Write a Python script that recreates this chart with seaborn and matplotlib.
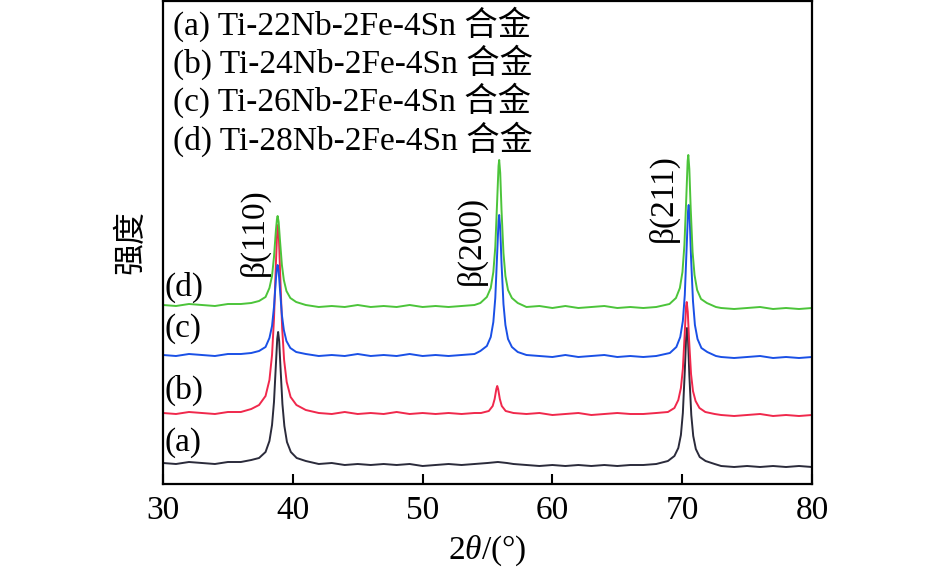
import matplotlib
matplotlib.use("Agg")
import matplotlib.pyplot as plt
import seaborn as sns
import pandas as pd

# ---------------- data ----------------
x_a = [30, 31, 32, 33, 34, 35, 36, 36.8, 37.4, 37.9, 38.2, 38.4, 38.55, 38.7, 38.8, 38.87, 38.95, 39.05, 39.2,
       39.35, 39.55, 39.85, 40.3, 41, 42, 43, 44, 45, 46, 47, 48, 49, 50, 51, 52, 53, 54, 55, 55.8, 56.5, 57, 58,
       59, 60, 61, 62, 63, 64, 65, 66, 67, 68, 68.9, 69.4, 69.7, 69.9, 70.05, 70.2, 70.3, 70.37, 70.45, 70.55,
       70.7, 70.85, 71.05, 71.35, 71.8, 72.5, 73, 74, 75, 76, 77, 78, 79, 80]
y_a = [21, 20, 22, 21, 20, 22, 22,
       24, 26, 32, 43, 59, 82, 120, 145, 152, 143, 117, 80, 58, 42, 32, 26,
       23, 20, 21, 19, 20, 19, 20, 19, 20, 18, 19, 20, 19, 20, 21,
       22, 21,
       20, 19, 18, 19, 18, 19, 18, 19, 18, 19, 19, 20,
       23, 28, 36, 49, 71, 113, 146, 156, 144, 109, 69, 48, 35, 27, 23,
       20,
       18, 17, 18, 17, 18, 17, 18, 17]

x_b = [30, 31, 32, 33, 34, 35, 36, 36.8, 37.4, 37.9, 38.2, 38.4, 38.55, 38.7, 38.8, 38.85, 38.93, 39.03, 39.18,
       39.33, 39.53, 39.83, 40.28, 41, 42, 43, 44, 45, 46, 47, 48, 49, 50, 51, 52, 53, 54, 54.5, 55.1, 55.4,
       55.55, 55.68, 55.75, 55.82, 55.95, 56.1, 56.4, 57, 58, 59, 60, 61, 62, 63, 64, 65, 66, 67, 68, 68.9, 69.4,
       69.7, 69.9, 70.05, 70.2, 70.3, 70.35, 70.43, 70.53, 70.68, 70.83, 71.03, 71.33, 71.78, 72.5, 73, 74, 75,
       76, 77, 78, 79, 80]
y_b = [71, 70, 72, 71, 70, 72, 72,
       75, 79, 88, 104, 129, 165, 221, 253, 259, 246, 209, 156, 124, 102, 87, 79,
       74, 71, 70, 72, 70, 71, 70, 72, 70, 71, 70, 71, 70, 71,
       71, 73, 78, 85, 95, 98, 95, 85, 78, 73,
       71, 70, 71, 69, 70, 71, 69, 70, 71, 70, 70, 71,
       72, 76, 84, 96, 115, 152, 178, 182, 172, 144, 110, 93, 83, 76, 72,
       70,
       69, 68, 69, 70, 68, 69, 68, 69]

x_c = [30, 31, 32, 33, 34, 35, 36, 36.8, 37.4, 37.9, 38.2, 38.4, 38.55, 38.7, 38.78, 38.83, 38.91, 39.01, 39.16,
       39.31, 39.51, 39.81, 40.26, 41, 42, 43, 44, 45, 46, 47, 48, 49, 50, 51, 52, 53, 54, 54.45, 54.95, 55.25,
       55.45, 55.6, 55.75, 55.85, 55.9, 55.98, 56.08, 56.23, 56.38, 56.58, 56.88, 57.33, 58, 59, 60, 61, 62, 63,
       64, 65, 66, 67, 68, 69.05, 69.55, 69.85, 70.05, 70.2, 70.35, 70.45, 70.5, 70.58, 70.68, 70.83, 70.98,
       71.18, 71.48, 71.93, 72.6, 73, 74, 75, 76, 77, 78, 79, 80]
y_c = [129, 128, 130, 129, 128, 130, 130,
       131, 133, 137, 146, 158, 177, 205, 216, 219, 213, 195, 169, 154, 143, 136, 132,
       130, 128, 129, 128, 130, 128, 129, 128, 130, 128, 129, 128, 129, 130,
       133, 138, 147, 162, 186, 232, 263, 269, 256, 221, 180, 159, 145, 137, 132,
       129, 128, 127, 129, 127, 128, 129, 127, 128, 127, 128,
       131, 137, 147, 163, 189, 239, 273, 279, 265, 227, 183, 159, 145, 136, 132,
       128,
       127, 126, 127, 128, 126, 127, 126, 127]

x_d = [30, 31, 32, 33, 34, 35, 36, 36.8, 37.4, 37.9, 38.2, 38.4, 38.55, 38.7, 38.78, 38.83, 38.91, 39.01, 39.16,
       39.31, 39.51, 39.81, 40.26, 41, 42, 43, 44, 45, 46, 47, 48, 49, 50, 51, 52, 53, 54, 54.45, 54.95, 55.25,
       55.45, 55.6, 55.75, 55.85, 55.9, 55.98, 56.08, 56.23, 56.38, 56.58, 56.88, 57.33, 58, 59, 60, 61, 62, 63,
       64, 65, 66, 67, 68, 69.02, 69.52, 69.82, 70.02, 70.17, 70.32, 70.42, 70.47, 70.55, 70.65, 70.8, 70.95,
       71.15, 71.45, 71.9, 72.6, 73, 74, 75, 76, 77, 78, 79, 80]
y_d = [179, 178, 180, 179, 178, 180, 180,
       181, 183, 187, 196, 208, 227, 254, 265, 268, 262, 244, 219, 204, 193, 186, 182,
       179, 177, 178, 177, 179, 177, 178, 177, 179, 177, 178, 177, 178, 179,
       181, 187, 196, 212, 237, 285, 318, 324, 311, 274, 231, 208, 194, 186, 181,
       177, 178, 176, 178, 176, 177, 178, 176, 177, 176, 177,
       180, 186, 196, 212, 239, 288, 323, 329, 315, 277, 232, 209, 194, 185, 181,
       177,
       176, 175, 176, 177, 175, 176, 175, 176]

series_tags = ["(a)", "(b)", "(c)", "(d)"]
legend_lines = ["(a) Ti-22Nb-2Fe-4Sn 合金", "(b) Ti-24Nb-2Fe-4Sn 合金",
                "(c) Ti-26Nb-2Fe-4Sn 合金", "(d) Ti-28Nb-2Fe-4Sn 合金"]
peak_labels = ["β(110)", "β(200)", "β(211)"]
xticks = [30, 40, 50, 60, 70, 80]

colors = ["#2b2b3b", "#f0284c", "#1a50e6", "#4cc43a"]

# ---------------- style ----------------
sns.set_theme(style="white")
plt.rcParams["font.family"] = ["Liberation Serif", "Noto Sans CJK SC"]
plt.rcParams["mathtext.fontset"] = "custom"
plt.rcParams["mathtext.rm"] = "Liberation Serif"
plt.rcParams["mathtext.it"] = "Liberation Serif:italic"
plt.rcParams["text.color"] = "black"
plt.rcParams["axes.labelcolor"] = "black"
plt.rcParams["xtick.color"] = "black"

fig = plt.figure(figsize=(9.45, 5.68), dpi=100)
ax = fig.add_axes([163 / 945, 1 - 484 / 568, (812 - 163) / 945, (484 - 1) / 568])

frames = []
for tag, xs, ys in zip(series_tags, [x_a, x_b, x_c, x_d], [y_a, y_b, y_c, y_d]):
    frames.append(pd.DataFrame({"2theta": xs, "I": ys, "s": tag}))
df = pd.concat(frames, ignore_index=True)

for tag, col in zip(series_tags, colors):
    sub = df[df["s"] == tag]
    sns.lineplot(data=sub, x="2theta", y="I", color=col, linewidth=1.4,
                 estimator=None, sort=False, ax=ax)

ax.set_xlim(30, 80)
ax.set_ylim(0, 483)
ax.set_xticks(xticks)
ax.set_xticklabels([str(t) for t in xticks])
ax.set_yticks([])
ax.tick_params(axis="x", direction="in", length=7, width=1.5, labelsize=24, pad=8,
               bottom=True, top=False, colors="black")
for sp in ax.spines.values():
    sp.set_visible(True)
    sp.set_color("black")
    sp.set_linewidth(1.6)

ax.set_xlabel("2$\\mathit{θ}$/(°)", fontsize=24, labelpad=6)
ax.set_ylabel("强度", fontsize=23, labelpad=12,
              family=["Noto Sans CJK SC", "Liberation Serif"])

# legend-like text block
for i, line in enumerate(legend_lines):
    ax.text(0.0154, [0.952, 0.874, 0.795, 0.714][i], line, transform=ax.transAxes,
            fontsize=24, va="center", ha="left",
            family=["Liberation Serif", "Noto Sans CJK SC"])

# curve tags
for tag, yv in zip(series_tags, [41, 94, 155, 197]):
    ax.text(30.12, yv, tag, fontsize=24, va="center", ha="left")

# peak labels
for lab, xv, yv in zip(peak_labels, [37.0, 53.73, 68.52], [252, 244, 286]):
    ax.text(xv, yv, lab, fontsize=24, rotation=90, va="center", ha="center")

fig.savefig("out.png", dpi=100)
